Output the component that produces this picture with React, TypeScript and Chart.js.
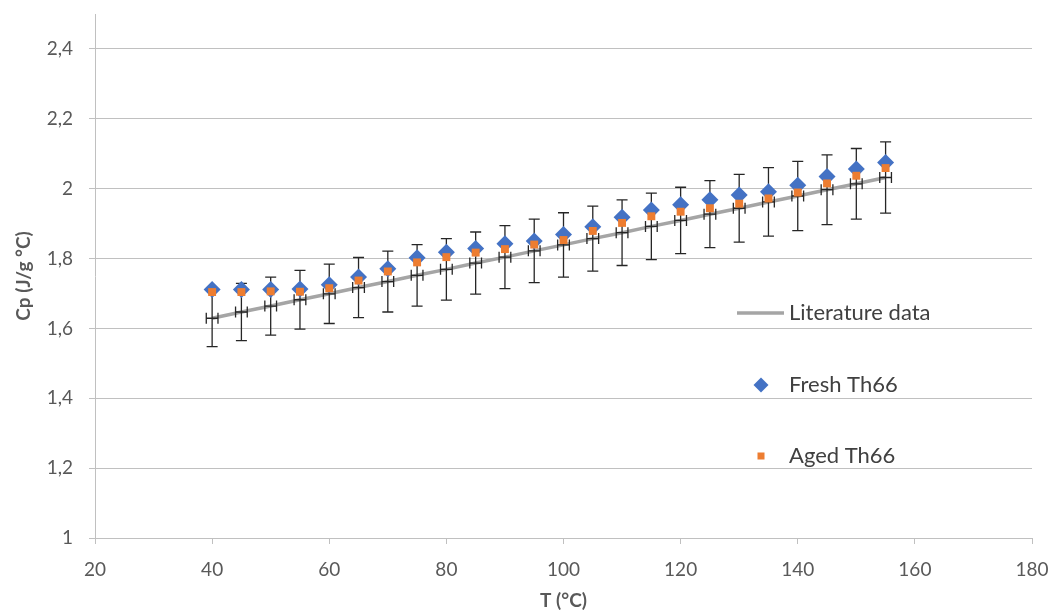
import React, { useEffect, useRef } from "react";
import { Chart, registerables } from "chart.js";

Chart.register(...registerables);

const TEMPS = [40, 45, 50, 55, 60, 65, 70, 75, 80, 85, 90, 95, 100, 105, 110, 115, 120, 125, 130, 135, 140, 145, 150, 155];
const LITERATURE = [1.629, 1.647, 1.664, 1.682, 1.699, 1.717, 1.734, 1.752, 1.769, 1.787, 1.804, 1.822, 1.839, 1.857, 1.874, 1.892, 1.909, 1.927, 1.944, 1.962, 1.979, 1.997, 2.014, 2.032];
const LITERATURE_ERR = [0.081, 0.082, 0.083, 0.084, 0.085, 0.086, 0.087, 0.088, 0.088, 0.089, 0.090, 0.091, 0.092, 0.093, 0.094, 0.095, 0.095, 0.096, 0.097, 0.098, 0.099, 0.100, 0.101, 0.102];
const T_ERR = 1;
const FRESH = [1.711, 1.711, 1.711, 1.713, 1.725, 1.747, 1.771, 1.802, 1.818, 1.829, 1.842, 1.850, 1.869, 1.891, 1.918, 1.939, 1.954, 1.968, 1.982, 1.991, 2.010, 2.035, 2.056, 2.075];
const AGED = [1.704, 1.704, 1.706, 1.705, 1.715, 1.737, 1.763, 1.789, 1.804, 1.817, 1.827, 1.840, 1.853, 1.879, 1.902, 1.921, 1.934, 1.944, 1.957, 1.972, 1.989, 2.015, 2.037, 2.059];

const X_TICKS = [20, 40, 60, 80, 100, 120, 140, 160, 180];
const X_TICK_LABELS = ["20", "40", "60", "80", "100", "120", "140", "160", "180"];
const Y_TICKS = [1, 1.2, 1.4, 1.6, 1.8, 2, 2.2, 2.4];
const Y_TICK_LABELS = ["1", "1,2", "1,4", "1,6", "1,8", "2", "2,2", "2,4"];

const SERIES_NAMES = ["Literature data", "Fresh Th66", "Aged Th66"];
const X_TITLE = "T (°C)";
const Y_TITLE = "Cp (J/g °C)";

const GREY = "#A5A5A5";
const BLUE = "#4472C4";
const ORANGE = "#ED7D31";
const GRID = "#C0C0C0";
const TEXT = "#595959";
const FONT = "Lato";

const errorBarPlugin = {
  id: "errorBars",
  afterDatasetDraw(chart: any, args: any) {
    if (args.index !== 0) return;
    const ctx = chart.ctx;
    const xs = chart.scales.x;
    const ys = chart.scales.y;
    ctx.save();
    ctx.strokeStyle = "#262626";
    ctx.lineWidth = 1.3;
    const cap = 5.5;
    TEMPS.forEach((t, i) => {
      const x = xs.getPixelForValue(t);
      const y = ys.getPixelForValue(LITERATURE[i]);
      const yt = ys.getPixelForValue(LITERATURE[i] + LITERATURE_ERR[i]);
      const yb = ys.getPixelForValue(LITERATURE[i] - LITERATURE_ERR[i]);
      const xl = xs.getPixelForValue(t - T_ERR);
      const xr = xs.getPixelForValue(t + T_ERR);
      ctx.beginPath();
      ctx.moveTo(x, yt);
      ctx.lineTo(x, yb);
      ctx.moveTo(x - cap, yt);
      ctx.lineTo(x + cap, yt);
      ctx.moveTo(x - cap, yb);
      ctx.lineTo(x + cap, yb);
      ctx.moveTo(xl, y);
      ctx.lineTo(xr, y);
      ctx.moveTo(xl, y - cap);
      ctx.lineTo(xl, y + cap);
      ctx.moveTo(xr, y - cap);
      ctx.lineTo(xr, y + cap);
      ctx.stroke();
    });
    ctx.restore();
  },
};

const legendPlugin = {
  id: "customLegend",
  afterDraw(chart: any) {
    const ctx = chart.ctx;
    ctx.save();
    const sx = 761;
    const tx = 789;
    const rows = [313, 385, 456];
    ctx.font = `22px ${FONT}`;
    ctx.textBaseline = "middle";
    ctx.textAlign = "left";
    ctx.strokeStyle = GREY;
    ctx.lineWidth = 3.5;
    ctx.beginPath();
    ctx.moveTo(737, rows[0]);
    ctx.lineTo(784, rows[0]);
    ctx.stroke();
    ctx.fillStyle = BLUE;
    ctx.beginPath();
    ctx.moveTo(sx - 7.5, rows[1]);
    ctx.lineTo(sx, rows[1] - 7.5);
    ctx.lineTo(sx + 7.5, rows[1]);
    ctx.lineTo(sx, rows[1] + 7.5);
    ctx.closePath();
    ctx.fill();
    ctx.fillStyle = ORANGE;
    ctx.fillRect(sx - 3.5, rows[2] - 3.5, 7, 7);
    ctx.fillStyle = "#404040";
    SERIES_NAMES.forEach((n, i) => ctx.fillText(n, tx, rows[i]));
    ctx.restore();
  },
};

export default function App() {
  const ref = useRef<HTMLCanvasElement | null>(null);
  useEffect(() => {
    if (!ref.current) return;
    const chart = new Chart(ref.current, {
      type: "scatter",
      data: {
        datasets: [
          {
            label: SERIES_NAMES[0],
            data: TEMPS.map((t, i) => ({ x: t, y: LITERATURE[i] })),
            showLine: true,
            borderColor: GREY,
            borderWidth: 3.5,
            pointRadius: 0,
            order: 3,
          },
          {
            label: SERIES_NAMES[1],
            data: TEMPS.map((t, i) => ({ x: t, y: FRESH[i] })),
            pointStyle: "rectRot",
            pointRadius: 8.5,
            backgroundColor: BLUE,
            borderWidth: 0,
            order: 2,
          },
          {
            label: SERIES_NAMES[2],
            data: TEMPS.map((t, i) => ({ x: t, y: AGED[i] })),
            pointStyle: "rect",
            pointRadius: 5.6,
            backgroundColor: ORANGE,
            borderWidth: 0,
            order: 1,
          },
        ],
      },
      options: {
        animation: false,
        responsive: true,
        maintainAspectRatio: false,
        layout: { padding: { left: 0, top: 14, right: 19, bottom: 0 } },
        plugins: {
          legend: { display: false },
          tooltip: { enabled: false },
        },
        scales: {
          x: {
            type: "linear",
            min: 20,
            max: 180,
            afterBuildTicks: (s: any) => {
              s.ticks = X_TICKS.map((v) => ({ value: v }));
            },
            afterFit: (s: any) => {
              s.height = 76;
              s.paddingLeft = 0;
              s.paddingRight = 0;
            },
            ticks: {
              callback: (v: any) => X_TICK_LABELS[X_TICKS.indexOf(Number(v))] ?? "",
              font: { family: FONT, size: 19 },
              color: TEXT,
              padding: 14,
              maxRotation: 0,
            },
            grid: {
              drawOnChartArea: false,
              drawTicks: true,
              tickLength: 6,
              color: GRID,
            },
            border: { display: true, color: GRID },
            title: {
              display: true,
              text: X_TITLE,
              font: { family: FONT, size: 19, weight: "bold" },
              color: TEXT,
              padding: { top: 0, bottom: 2 },
            },
          },
          y: {
            type: "linear",
            min: 1,
            max: 2.5,
            afterBuildTicks: (s: any) => {
              s.ticks = Y_TICKS.map((v) => ({ value: v }));
            },
            afterFit: (s: any) => {
              s.width = 95;
              s.paddingTop = 0;
              s.paddingBottom = 0;
            },
            ticks: {
              callback: (v: any) => {
                const idx = Y_TICKS.findIndex((t) => Math.abs(t - Number(v)) < 1e-6);
                return idx >= 0 ? Y_TICK_LABELS[idx] : "";
              },
              font: { family: FONT, size: 19 },
              color: TEXT,
              padding: 16,
            },
            grid: {
              drawTicks: true,
              tickLength: 6,
              color: GRID,
            },
            border: { display: true, color: GRID },
            title: {
              display: true,
              text: Y_TITLE,
              font: { family: FONT, size: 19, weight: "bold" },
              color: TEXT,
              padding: { top: 12, bottom: 0 },
            },
          },
        },
      },
      plugins: [errorBarPlugin, legendPlugin],
    });
    return () => chart.destroy();
  }, []);
  return (
    <div style={{ position: "fixed", left: 0, top: 0, width: 1051, height: 614, background: "#fff" }}>
      <canvas ref={ref} />
    </div>
  );
}
